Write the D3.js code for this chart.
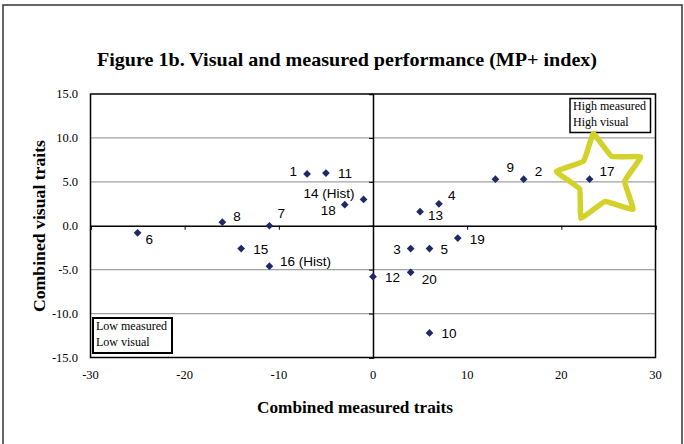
<!DOCTYPE html>
<html lang="en">
<head>
    <meta charset="utf-8">
    <title>Figure 1b</title>
    <script src="https://d3js.org/d3.v7.min.js"></script>
    <style>
        body { margin: 0; background: #fff; }
        svg text { fill: #000; }
    </style>
</head>
<body>
    <div id="my_dataviz"></div>
    <script>
        // varieties: label, combined measured (x), combined visual (y)
        var labels   = ["1", "2", "3", "4", "5", "6", "7", "8", "9", "10",
                        "11", "12", "13", "14 (Hist)", "15", "16 (Hist)", "17", "18", "19", "20"]
        var measured = [-7, 16, 4, 7, 6, -25, -11, -16, 13, 6,
                        -5, 0, 5, -1, -14, -11, 23, -3, 9, 4]
        var visual   = [5.9, 5.3, -2.6, 2.5, -2.6, -0.8, 0.0, 0.4, 5.3, -12.2,
                        6.0, -5.8, 1.6, 3.0, -2.6, -4.6, 5.3, 2.4, -1.4, -5.3]
        var xTicks = [-30, -20, -10, 0, 10, 20, 30]
        var yTicks = [-15, -10, -5, 0, 5, 10, 15]

        // where each label sits relative to its marker
        var labelPlace = {
            "1": ["end", -10, 2.5], "2": ["start", 11, -3.3], "3": ["end", -10, 5],
            "4": ["start", 9, -3.4], "5": ["start", 11, 5], "6": ["start", 8, 11.3],
            "7": ["start", 8, -7.4], "8": ["start", 11, -1.6], "9": ["start", 11, -6.7],
            "10": ["start", 12, 5], "11": ["start", 12, 5], "12": ["start", 12, 5],
            "13": ["start", 8, 8], "14 (Hist)": ["end", -9, -1.6], "15": ["start", 12, 5],
            "16 (Hist)": ["start", 10.5, -0.4], "17": ["start", 10, -3.3], "18": ["end", -9, 10.7],
            "19": ["start", 12, 6.3], "20": ["start", 11, 11.6]
        }

        var width = 684
        var height = 444
        var serif = "'Liberation Serif', 'Times New Roman', serif"
        var sans = "'Liberation Sans', Arial, sans-serif"

        var svg = d3.select("#my_dataviz")
            .append("svg")
            .attr("width", width)
            .attr("height", height)

        // outer chart frame
        svg.append("rect")
            .attr("x", 3).attr("y", 5)
            .attr("width", 679).attr("height", 445)
            .attr("fill", "#fff")
            .attr("stroke", "#333")
            .attr("stroke-width", 1.5)

        var x = d3.scaleLinear().domain([-30, 30]).range([90.5, 655.5])
        var y = d3.scaleLinear().domain([-15, 15]).range([357.5, 94])

        // title
        svg.append("text")
            .attr("x", 97).attr("y", 66)
            .attr("textLength", 500)
            .attr("lengthAdjust", "spacingAndGlyphs")
            .style("font-family", serif)
            .style("font-weight", "bold")
            .style("font-size", "19px")
            .text("Figure 1b.  Visual and measured performance (MP+ index)")

        // grid lines
        svg.append("g")
            .selectAll("line")
            .data(yTicks.filter(function (d) { return d != 0 && Math.abs(d) != 15 }))
            .enter()
            .append("line")
            .attr("x1", x(-30)).attr("x2", x(30))
            .attr("y1", function (d) { return y(d) }).attr("y2", function (d) { return y(d) })
            .attr("stroke", "#a0a0a0")
            .attr("stroke-width", 1.3)

        // plot frame
        svg.append("rect")
            .attr("x", x(-30)).attr("y", y(15))
            .attr("width", x(30) - x(-30)).attr("height", y(-15) - y(15))
            .attr("fill", "none")
            .attr("stroke", "#000")
            .attr("stroke-width", 1.5)

        // axes through the origin
        var xAxis = d3.axisBottom(x).tickValues(xTicks).tickSize(4).tickFormat("")
        svg.append("g")
            .attr("transform", "translate(0," + y(0) + ")")
            .call(xAxis)
            .call(function (g) { g.select(".domain").attr("stroke-width", 1.5) })

        var yAxis = d3.axisLeft(y).tickValues(yTicks).tickSize(4).tickFormat("")
        svg.append("g")
            .attr("transform", "translate(" + x(0) + ",0)")
            .call(yAxis)
            .call(function (g) { g.select(".domain").attr("stroke-width", 1.5) })

        // tick labels at the frame edges
        svg.append("g")
            .selectAll("text")
            .data(yTicks)
            .enter()
            .append("text")
            .attr("x", 78)
            .attr("y", function (d) { return y(d) + 4 })
            .style("text-anchor", "end")
            .style("font-family", serif)
            .style("font-size", "12.5px")
            .text(function (d) { return d3.format(".1f")(d).replace("−", "-") })

        svg.append("g")
            .selectAll("text")
            .data(xTicks)
            .enter()
            .append("text")
            .attr("x", function (d) { return x(d) })
            .attr("y", 379)
            .style("text-anchor", "middle")
            .style("font-family", serif)
            .style("font-size", "12.5px")
            .text(function (d) { return String(d) })

        // axis titles
        svg.append("text")
            .attr("x", 355).attr("y", 413)
            .attr("textLength", 196)
            .attr("lengthAdjust", "spacingAndGlyphs")
            .style("text-anchor", "middle")
            .style("font-family", serif)
            .style("font-weight", "bold")
            .style("font-size", "16px")
            .text("Combined  measured traits")

        svg.append("text")
            .attr("transform", "translate(45,226) rotate(-90)")
            .attr("textLength", 172)
            .attr("lengthAdjust", "spacingAndGlyphs")
            .style("text-anchor", "middle")
            .style("font-family", serif)
            .style("font-weight", "bold")
            .style("font-size", "16px")
            .text("Combined visual traits")

        // quadrant notes
        function noteBox(x0, y0, w, h, lines, sw) {
            svg.append("rect")
                .attr("x", x0).attr("y", y0)
                .attr("width", w).attr("height", h)
                .attr("fill", "#fff")
                .attr("stroke", "#000")
                .attr("stroke-width", sw)
            lines.forEach(function (t, i) {
                svg.append("text")
                    .attr("x", x0 + 3).attr("y", y0 + 11.5 + i * 16)
                    .style("font-family", serif)
                    .style("font-size", "12px")
                    .text(t)
            })
        }
        noteBox(570, 98.5, 80.5, 34, ["High measured", "High visual"], 1.5)
        noteBox(93, 318, 79, 35, ["Low measured", "Low visual"], 2)

        // points
        var data_ready = labels.map(function (l, i) {
            return { label: l, x: measured[i], y: visual[i] }
        })

        var diamond = d3.symbol().type(d3.symbolSquare).size(30)
        svg.append("g")
            .selectAll("path")
            .data(data_ready)
            .enter()
            .append("path")
            .attr("d", diamond)
            .attr("transform", function (d) { return "translate(" + x(d.x) + "," + y(d.y) + ") rotate(45)" })
            .attr("fill", "#1d2a66")

        svg.append("g")
            .selectAll("text")
            .data(data_ready)
            .enter()
            .append("text")
            .attr("x", function (d) { return x(d.x) + labelPlace[d.label][1] })
            .attr("y", function (d) { return y(d.y) + labelPlace[d.label][2] })
            .style("text-anchor", function (d) { return labelPlace[d.label][0] })
            .style("font-family", sans)
            .style("font-size", "13.5px")
            .text(function (d) { return d.label })

        // hand-drawn highlight star round variety 17
        var starPts = d3.range(10).map(function (i) {
            return [i * Math.PI / 5 - 0.17, i % 2 == 0 ? 45 : 24]
        })
        var star = d3.lineRadial().curve(d3.curveCardinalClosed.tension(0.75))
        svg.append("path")
            .attr("d", star(starPts))
            .attr("transform", "translate(" + x(24.2) + "," + y(5.45) + ")")
            .attr("fill", "none")
            .attr("stroke", "#d2d22a")
            .attr("stroke-width", 5.5)
            .attr("stroke-linejoin", "round")
    </script>
</body>
</html>
